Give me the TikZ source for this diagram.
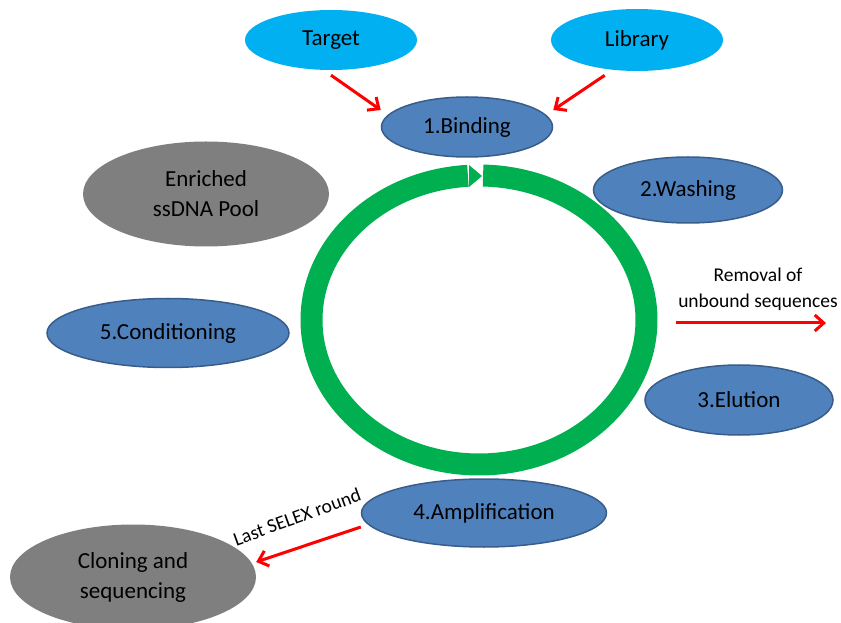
\documentclass[tikz,border=0pt]{standalone}
\usepackage{fontspec}
\setmainfont{Carlito}
\usetikzlibrary{arrows.meta}
\usetikzlibrary{shapes.geometric}
\definecolor{stageblue}{HTML}{4F81BD}
\definecolor{stageedge}{HTML}{385D8A}
\definecolor{inputcyan}{HTML}{00B0F0}
\definecolor{poolgray}{HTML}{7F7F7F}
\definecolor{cyclegreen}{HTML}{00B050}

\begin{document}
\begin{tikzpicture}[x=1pt,y=1pt,>={Straight Barb[length=9pt,width=16pt]},
  stage/.style={ellipse,draw=stageedge,line width=1.5pt,fill=stageblue,inner sep=0pt,
    minimum width=#1,font=\fontsize{23}{28}\selectfont},
  input/.style={ellipse,fill=inputcyan,inner sep=0pt,minimum width=172pt,
    font=\fontsize{23}{28}\selectfont},
  pool/.style={ellipse,fill=poolgray,inner sep=0pt,minimum width=246pt,minimum height=105pt,
    align=center,font=\fontsize{23}{30}\selectfont},
  flow/.style={draw=red,line width=3pt},
  small/.style={font=\fontsize{19.5}{26}\selectfont,align=center}]
\useasboundingbox (0,0) rectangle (841,622);

% the selection cycle
\coordinate (cyc) at (479,302);
\draw[cyclegreen,line width=22pt] (cyc) ++(88.6:167.5 and 144.5)
  arc[start angle=88.6,end angle=-266.2,x radius=167.5,y radius=144.5];
\fill[cyclegreen] (469,457) -- (482,446) -- (469,435) -- cycle;

\node[input,minimum height=60pt](target) at (331,582) {Target};
\node[input,minimum height=62pt](library) at (637,582) {Library};

\node[stage=171pt,minimum height=60pt](binding) at (467,495) {1.Binding};
\node[stage=189pt,minimum height=66pt](washing) at (688,432) {2.Washing};
\node[stage=188pt,minimum height=70pt](elution) at (739,222) {3.Elution};
\node[stage=245pt,minimum height=68pt](amplif) at (484,109) {4.Amplification};
\node[stage=242pt,minimum height=69pt](condit) at (168,289) {5.Conditioning};

\node[pool](enriched) at (206,428) {Enriched\\ssDNA Pool};
\node[pool](cloning) at (133,45) {Cloning and\\sequencing};

\node[small](removal) at (758,333) {Removal of\\unbound sequences};
\coordinate (rmstart) at (676,299);
\coordinate (rmend) at (826,299);

\draw[flow,->] ([yshift=-5pt]target.south) -- ([yshift=17pt]binding.west);
\draw[flow,->] ([xshift=-3pt,yshift=-6pt]library.225) -- ([yshift=17pt]binding.east);
\draw[flow,->] (rmstart) -- (rmend);
\draw[flow,->] ([yshift=-14pt]amplif.west) -- ([yshift=15pt]cloning.east);
\node[small,rotate=20] at (297,105) {Last SELEX round};
\end{tikzpicture}
\end{document}
